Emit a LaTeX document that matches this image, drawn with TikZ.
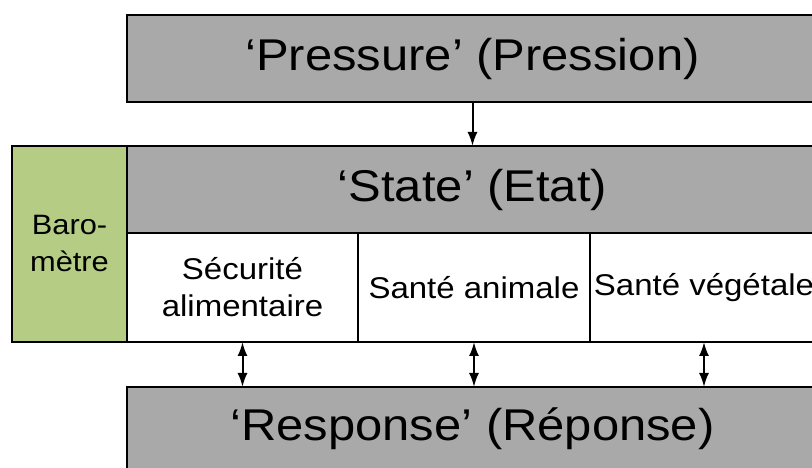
\documentclass[tikz,border=0pt]{standalone}
\usepackage{fontspec}
\setmainfont[FakeStretch=1.1]{Liberation Sans}
\usepackage{tikz}
\usetikzlibrary{arrows.meta,positioning}
\definecolor{boxgray}{RGB}{169,169,169}
\definecolor{barogreen}{RGB}{181,204,133}

\begin{document}
\begin{tikzpicture}[x=1pt,y=1pt,node distance=44pt,
  >={Latex[length=14pt,width=10pt]},
  outerbox/.style={draw,line width=2.5pt,fill=boxgray,outer sep=0pt,inner sep=0pt,
    minimum width=691pt,minimum height=87pt,font=\fontsize{44.5}{50}\selectfont},
  subbox/.style={draw,line width=2pt,fill=white,outer sep=0pt,inner sep=0pt,
    minimum height=109pt,align=center,font=\fontsize{30}{37}\selectfont},
  barobox/.style={draw,line width=2.5pt,fill=barogreen,outer sep=0pt,inner sep=0pt,
    minimum width=115pt,minimum height=196pt,align=center,font=\fontsize{28}{37}\selectfont},
  link/.style={line width=2pt}]
\useasboundingbox (0,0) rectangle (812,468);
\clip (0,0) rectangle (812,468);
\node[outerbox,anchor=north west] (pressure) at (127,453) {‘Pressure’ (Pression)};
\node[outerbox] (state) [below=of pressure] {‘State’ (Etat)};
\node[barobox,anchor=north east] (baro) at (state.north west) {Baro-\\mètre};
\node[subbox,minimum width=231pt] (secu) [below right=0pt and 0pt of state.south west] {Sécurité\\alimentaire};
\node[subbox,minimum width=232pt] (anim) [right=0pt of secu] {Santé animale};
\node[subbox,minimum width=228pt] (vege) [right=0pt of anim] {Santé végétale};
\node[outerbox,minimum height=84pt] (resp) [below right=45pt and 0pt of secu.south west] {‘Response’ (Réponse)};
% arrows between the levels
\draw[->,link] (pressure.south) -- (state.north);
\draw[<->,link] (secu.south) -- (secu.south |- resp.north);
\draw[<->,link] (anim.south) -- (anim.south |- resp.north);
\draw[<->,link] (vege.south) -- (vege.south |- resp.north);
\end{tikzpicture}
\end{document}
